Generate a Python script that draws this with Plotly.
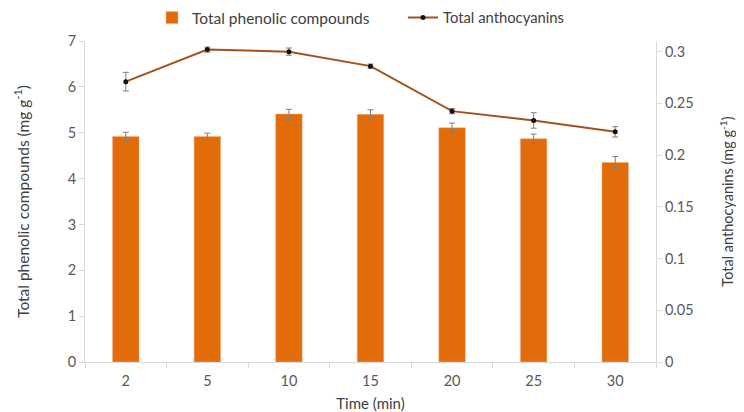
import plotly.graph_objects as go

time_labels = ["2", "5", "10", "15", "20", "25", "30"]
phenolic = [4.92, 4.92, 5.41, 5.40, 5.11, 4.87, 4.35]
phenolic_err = [0.09, 0.07, 0.10, 0.10, 0.10, 0.10, 0.13]
anthocyanins = [0.271, 0.302, 0.300, 0.286, 0.2425, 0.2335, 0.2225]
anthocyanins_err = [0.009, 0.0025, 0.0035, 0.002, 0.0025, 0.0075, 0.005]

left_ticks = [0, 1, 2, 3, 4, 5, 6, 7]
right_ticks = [0, 0.05, 0.1, 0.15, 0.2, 0.25, 0.3]
right_ticktext = ["0", "0.05", "0.1", "0.15", "0.2", "0.25", "0.3"]

FONT = "Lato"
TXT = "#404040"
TICK = "#595959"
AX = "#d9d9d9"

# page body has an 8px default margin: figure is sized to fill the rest
W, H = 736, 404

fig = go.Figure()
fig.add_trace(go.Bar(
    x=time_labels, y=phenolic, name="Total phenolic compounds",
    marker=dict(color="#E36C0A", line=dict(color="#F4B183", width=0.5)),
    error_y=dict(type="data", array=phenolic_err, color="#7f7f7f", thickness=1, width=3),
    yaxis="y", legend="legend",
))
fig.add_trace(go.Scatter(
    x=time_labels, y=anthocyanins, name="Total anthocyanins",
    mode="lines+markers",
    line=dict(color="#A3531A", width=2),
    marker=dict(color="#111111", size=5),
    error_y=dict(type="data", array=anthocyanins_err, color="#7f7f7f", thickness=1, width=3),
    yaxis="y2", legend="legend2",
))

legend_common = dict(orientation="h", xanchor="left", xref="container",
                     y=1 - 10 / H, yanchor="middle", yref="container",
                     itemwidth=30, bgcolor="rgba(0,0,0,0)", borderwidth=0)

fig.update_layout(
    width=W, height=H,
    margin=dict(l=77, r=88, t=33, b=50, autoexpand=False),
    paper_bgcolor="white", plot_bgcolor="white",
    font=dict(family=FONT, size=14.5, color=TICK),
    bargap=0.675,
    showlegend=True,
    legend=dict(x=144 / W, font=dict(family=FONT, size=15.5, color=TXT), **legend_common),
    legend2=dict(x=395 / W, font=dict(family=FONT, size=14.8, color=TXT), **legend_common),
    xaxis=dict(
        type="category", showgrid=False, showline=True, linecolor=AX, linewidth=1,
        ticks="outside", tickson="boundaries", ticklen=5, tickcolor=AX,
        ticklabelstandoff=6,
        tickfont=dict(family=FONT, size=14.5, color=TICK),
        title=dict(text="Time (min)", font=dict(family=FONT, size=15, color=TXT), standoff=12),
    ),
    yaxis=dict(
        range=[0, 7], tickvals=left_ticks, showgrid=False, zeroline=False,
        showline=True, linecolor=AX, linewidth=1, ticks="outside", ticklen=5, tickcolor=AX,
        tickfont=dict(family=FONT, size=14.5, color=TICK),
        title=dict(text="Total phenolic compounds (mg g<sup>-1</sup>)",
                   font=dict(family=FONT, size=15.5, color=TXT), standoff=34),
    ),
    yaxis2=dict(
        range=[0, 0.3103], tickvals=right_ticks, ticktext=right_ticktext, overlaying="y", side="right",
        showgrid=False, zeroline=False, showline=True, linecolor=AX, linewidth=1,
        ticks="outside", ticklen=5, tickcolor=AX,
        tickfont=dict(family=FONT, size=14.5, color=TICK),
        title=dict(text="Total anthocyanins (mg g<sup>-1</sup>)",
                   font=dict(family=FONT, size=14.5, color=TXT), standoff=30),
    ),
)

fig.write_html("out.html")
